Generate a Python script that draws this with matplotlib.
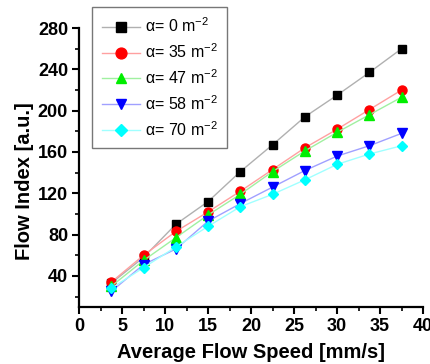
import matplotlib
matplotlib.use("Agg")
import matplotlib.pyplot as plt
from matplotlib.ticker import MultipleLocator

plt.rcParams['font.family'] = ['Liberation Sans', 'DejaVu Sans']
plt.rcParams['mathtext.fontset'] = 'custom'
plt.rcParams['mathtext.rm'] = 'Liberation Sans'

speed = [3.75, 7.5, 11.25, 15, 18.75, 22.5, 26.25, 30, 33.75, 37.5]
alpha_0 = [33, 58, 90, 112, 141, 167, 194, 215, 237, 260]
alpha_35 = [34, 60, 83, 102, 122, 143, 164, 182, 201, 220]
alpha_47 = [30, 55, 77, 99, 119, 141, 161, 179, 196, 213]
alpha_58 = [25, 51, 66, 93, 110, 126, 142, 156, 166, 178]
alpha_70 = [28, 48, 68, 88, 107, 119, 133, 148, 158, 166]
labels = ["0", "35", "47", "58", "70"]

series = [alpha_0, alpha_35, alpha_47, alpha_58, alpha_70]
markers = ['s', 'o', '^', 'v', 'D']
mcolors = ['black', 'red', '#00ee00', 'blue', 'cyan']
lcolors = ['#b0b0b0', '#ffa0a0', '#a0f0a0', '#a0a0ff', '#a0ffff']
msizes = [5.5, 6.5, 6.5, 6.5, 5.5]

fig = plt.figure(figsize=(4.3, 3.64), dpi=100)
ax = fig.add_axes([0.184, 0.157, 0.8, 0.766])

handles = []
for ys, m, mc, lc, ms, lab in zip(series, markers, mcolors, lcolors, msizes, labels):
    h, = ax.plot(speed, ys, color=lc, lw=1, marker=m, markersize=ms,
                 markerfacecolor=mc, markeredgecolor=mc,
                 label='α= ' + lab + r' m$^{-2}$')
    handles.append(h)

ax.set_xlim(0, 40)
ax.set_ylim(10, 280)
ax.xaxis.set_major_locator(MultipleLocator(5))
ax.xaxis.set_minor_locator(MultipleLocator(2.5))
ax.yaxis.set_minor_locator(MultipleLocator(20))
ax.set_yticks([40, 80, 120, 160, 200, 240, 280])

for s in ['top', 'right']:
    ax.spines[s].set_visible(False)
for s in ['left', 'bottom']:
    ax.spines[s].set_linewidth(1.6)
ax.tick_params(which='major', direction='out', length=5, width=1.5,
               labelsize=13, pad=3)
ax.tick_params(which='minor', direction='out', length=3, width=1.2)
for t in ax.get_xticklabels() + ax.get_yticklabels():
    t.set_fontweight('bold')

ax.set_xlabel('Average Flow Speed [mm/s]', fontsize=14.5, fontweight='bold')
ax.set_ylabel('Flow Index [a.u.]', fontsize=14.5, fontweight='bold')
ax.xaxis.set_label_coords(0.5, -0.13)
ax.yaxis.set_label_coords(-0.13, 0.45)

leg = fig.legend(handles=handles, loc='upper left',
                 bbox_to_anchor=(92 / 430, 1 - 7 / 364), fontsize=11.5,
                 frameon=True, fancybox=False, edgecolor='#555555',
                 markerscale=1.2, handlelength=2.4, labelspacing=0.45,
                 borderpad=0.6, handletextpad=0.3, borderaxespad=0)
leg.get_frame().set_linewidth(1.0)

fig.savefig('out.png', dpi=100)
